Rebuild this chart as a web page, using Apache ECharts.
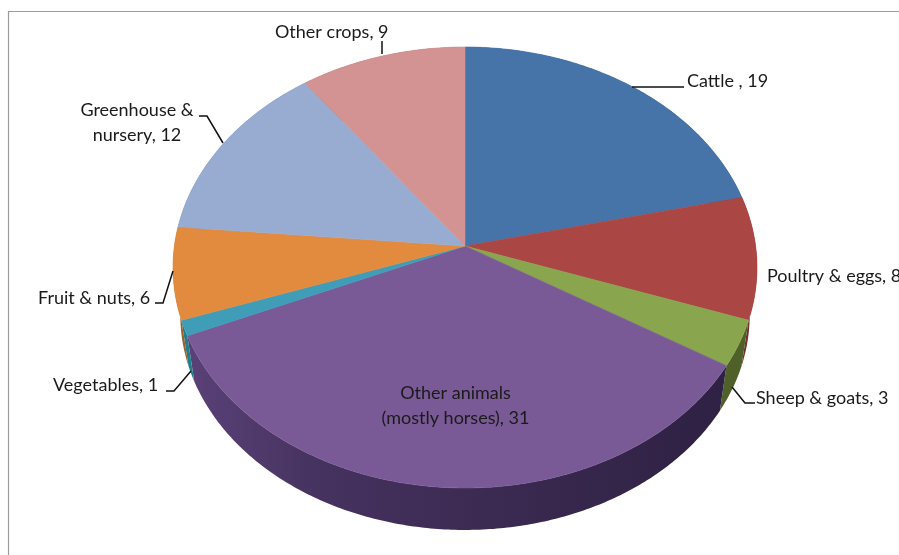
<!DOCTYPE html>
<html>
<head>
<meta charset="utf-8">
<style>html,body{margin:0;padding:0;background:#fff}#chart{width:899px;height:555px}</style>
<script src="https://cdn.jsdelivr.net/npm/echarts@6/dist/echarts.min.js"></script>
</head>
<body>
<div id="chart"></div>
<script>
// Data
var categories = ['Cattle', 'Poultry & eggs', 'Sheep & goats', 'Other animals (mostly horses)', 'Vegetables', 'Fruit & nuts', 'Greenhouse & nursery', 'Other crops'];
var values = [19, 8, 3, 31, 1, 6, 12, 9];
var labelLines = [['Cattle , 19'], ['Poultry & eggs, 8'], ['Sheep & goats, 3'], ['Other animals', '(mostly horses), 31'], ['Vegetables, 1'], ['Fruit & nuts, 6'], ['Greenhouse &', 'nursery, 12'], ['Other crops, 9']];
// Styles
var topColors = ['#4674A8', '#AA4643', '#89A54E', '#7A5A96', '#3F9DB8', '#E28B3F', '#98ACD2', '#D29392'];
var sideColors = ['#2f4e72', '#732f2d', '#4f6128', '#3a2950', '#1f7f8f', '#9c5f2a', '#66748e', '#8e6362'];
// Layout of the labels and leader lines
var labelPos = [[687, 81, 'left'], [767, 276, 'left'], [756, 398, 'left'], [455.5, 393, 'center'], [53, 385, 'left'], [38, 298, 'left'], [137, 110, 'center'], [275, 32, 'left']];
var lineHeight = 25;
var leaderPts = [[[632, 87], [684, 87]], [], [[732, 387], [745, 403], [755, 403]], [], [[166, 391], [174, 391], [191, 371]], [[155, 303], [163, 303], [173, 271]], [[199, 116], [207, 116], [223, 143]], [[382, 41], [382, 54]]];
var pie = { cx: 465, cy: 246, rx: 290.6, ry: 218.4, k: 0.0975, depth: 48, baseScale: 0.975 };
var FONT = '18px Lato, "Open Sans", sans-serif';

var total = values.reduce(function (a, b) { return a + b; }, 0);
var cum = 0;
var sliceData = values.map(function (v, i) {
  var d = { name: categories[i], value: [i, cum, cum + v] };
  cum += v;
  return d;
});

function project(t, h, s) {
  var u = Math.sin(t), v = -Math.cos(t), w = 1 - pie.k * v;
  return [pie.cx + pie.rx * s * u / w, pie.cy + pie.ry * s * v / w + h];
}
function arc(a0, a1, h, s) {
  var n = Math.max(2, Math.ceil((a1 - a0) * 90)), pts = [];
  for (var i = 0; i <= n; i++) pts.push(project(a0 + (a1 - a0) * i / n, h, s));
  return pts;
}
function angle(x) { return x / total * Math.PI * 2; }

var sideSeries = {
  type: 'custom', coordinateSystem: 'none', silent: true, z: 2,
  data: sliceData,
  renderItem: function (params, api) {
    var i = api.value(0), a0 = angle(api.value(1)), a1 = angle(api.value(2));
    var top = arc(a0, a1, 0, 1), low = arc(a0, a1, pie.depth, pie.baseScale).reverse();
    var fill = sideColors[i];
    if (i === 3) {
      fill = { type: 'linear', x: 0, y: 0, x2: 1, y2: 0, colorStops: [
        { offset: 0, color: '#5a4177' }, { offset: 0.25, color: '#45325f' },
        { offset: 0.6, color: '#3a2950' }, { offset: 1, color: '#2e2143' } ] };
    }
    return { type: 'polygon', shape: { points: top.concat(low) }, style: { fill: fill } };
  }
};
var topSeries = {
  type: 'custom', coordinateSystem: 'none', silent: true, z: 3,
  data: sliceData,
  renderItem: function (params, api) {
    var i = api.value(0), a0 = angle(api.value(1)), a1 = angle(api.value(2));
    var pts = [[pie.cx, pie.cy]].concat(arc(a0, a1, 0, 1));
    return { type: 'polygon', shape: { points: pts }, style: { fill: topColors[i], stroke: topColors[i], lineWidth: 0.6 } };
  }
};
var labelSeries = {
  type: 'custom', coordinateSystem: 'none', silent: true, z: 4,
  data: sliceData,
  renderItem: function (params, api) {
    var i = api.value(0), p = labelPos[i], kids = [];
    labelLines[i].forEach(function (t, j) {
      kids.push({ type: 'text', style: { text: t, x: p[0], y: p[1] + j * lineHeight, textAlign: p[2], textVerticalAlign: 'middle', fill: '#1a1a1a', font: FONT } });
    });
    if (leaderPts[i].length) {
      kids.push({ type: 'polyline', shape: { points: leaderPts[i] }, style: { stroke: '#111', lineWidth: 1.5, fill: null } });
    }
    return { type: 'group', children: kids };
  }
};

var chart = echarts.init(document.getElementById('chart'), null, { renderer: 'canvas' });
chart.setOption({
  animation: false,
  backgroundColor: '#fff',
  graphic: [{ type: 'polyline', silent: true, z: 1, shape: { points: [[8.5, 555], [8.5, 11.5], [899, 11.5]] }, style: { stroke: '#9c9c9c', lineWidth: 1.2, fill: null } }],
  series: [sideSeries, topSeries, labelSeries]
});
</script>
</body>
</html>
